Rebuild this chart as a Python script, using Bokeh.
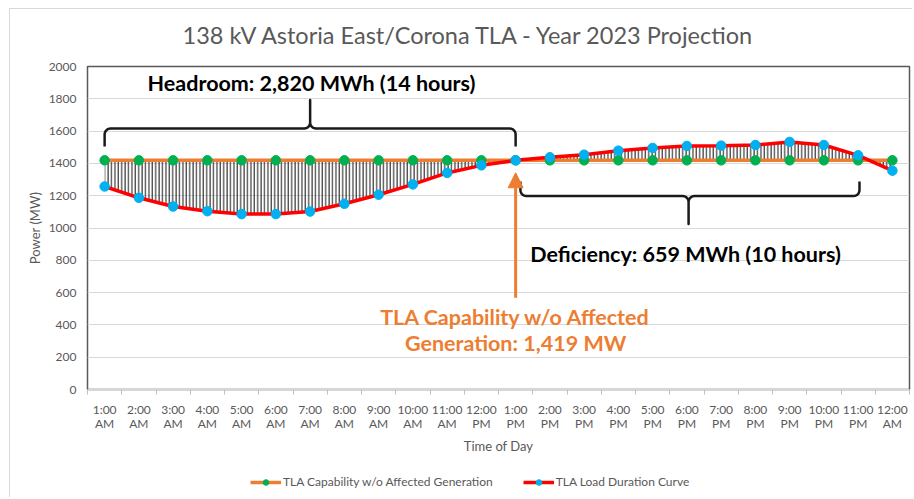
import numpy as np
from bokeh.plotting import figure
from bokeh.layouts import column
from bokeh.models import (Label, Legend, LegendItem, FixedTicker, SingleIntervalTicker,
                          Arrow, NormalHead, ColumnDataSource, Title, Range1d)
from bokeh.embed import file_html
from bokeh.resources import INLINE

# ---------------- data ----------------
hours = list(range(1, 25))
tick_labels = ["1:00\nAM", "2:00\nAM", "3:00\nAM", "4:00\nAM", "5:00\nAM", "6:00\nAM",
               "7:00\nAM", "8:00\nAM", "9:00\nAM", "10:00\nAM", "11:00\nAM", "12:00\nPM",
               "1:00\nPM", "2:00\nPM", "3:00\nPM", "4:00\nPM", "5:00\nPM", "6:00\nPM",
               "7:00\nPM", "8:00\nPM", "9:00\nPM", "10:00\nPM", "11:00\nPM", "12:00\nAM"]
capability = [1419] * 24
load = [1257, 1187, 1133, 1104, 1086, 1086, 1102, 1150, 1206, 1270, 1341, 1388,
        1419, 1438, 1454, 1479, 1496, 1508, 1510, 1514, 1533, 1514, 1450, 1355]

ORANGE = "#ED7D31"
GREEN = "#00B050"
RED = "#FF0000"
BLUE = "#00B0F0"
GRAY = "#595959"
FONT = "Lato"

src = ColumnDataSource(dict(x=hours, cap=capability, load=load))

p = figure(width=912, height=467, output_backend="svg", toolbar_location=None,
           x_range=(0.5, 24.5), y_range=(0, 2000),
           min_border_left=87, min_border_right=3, min_border_top=66, min_border_bottom=78)
p.border_fill_color = None
p.background_fill_color = "white"
p.styles = {
    "background-image": "linear-gradient(#D9D9D9,#D9D9D9), linear-gradient(#D9D9D9,#D9D9D9)",
    "background-size": "1px 100%, 100% 1px",
    "background-position": "9px 8px, 9px 8px",
    "background-repeat": "no-repeat",
}

p.outline_line_color = GRAY
p.outline_line_width = 1.5
p.xgrid.grid_line_color = None
p.ygrid.grid_line_color = "#D9D9D9"
p.ygrid.ticker = SingleIntervalTicker(interval=200)

# y axis
p.yaxis.ticker = SingleIntervalTicker(interval=200)
p.yaxis.axis_line_color = None
p.yaxis.major_tick_out = 0
p.yaxis.major_tick_in = 0
p.yaxis.minor_tick_line_color = None
p.yaxis.major_label_standoff = 7
p.yaxis.major_label_text_font = FONT
p.yaxis.major_label_text_font_size = "12px"
p.yaxis.major_label_text_color = GRAY
p.yaxis.axis_label = "Power (MW)"
p.yaxis.axis_label_text_font = FONT
p.yaxis.axis_label_text_font_size = "13px"
p.yaxis.axis_label_text_font_style = "normal"
p.yaxis.axis_label_text_color = GRAY
p.yaxis.axis_label_standoff = 3

# x axis
p.xaxis.ticker = FixedTicker(ticks=hours, minor_ticks=[h - 0.5 for h in hours] + [24.5])
p.xaxis.major_label_overrides = {h: lab for h, lab in zip(hours, tick_labels)}
p.xaxis.axis_line_color = "#D9D9D9"
p.xaxis.major_tick_line_color = None
p.xaxis.major_tick_out = 0
p.xaxis.minor_tick_line_color = "#BFBFBF"
p.xaxis.minor_tick_out = 5
p.xaxis.minor_tick_in = 0
p.xaxis.major_label_standoff = 7
p.xaxis.major_label_text_font = FONT
p.xaxis.major_label_text_font_size = "12px"
p.xaxis.major_label_text_line_height = 0.95
p.xaxis.major_label_text_color = GRAY
p.xaxis.axis_label = "Time of Day"
p.xaxis.axis_label_text_font = FONT
p.xaxis.axis_label_text_font_size = "13px"
p.xaxis.axis_label_text_font_style = "normal"
p.xaxis.axis_label_text_color = GRAY
p.xaxis.axis_label_standoff = 4

# hatched area between curves
p.varea(x="x", y1="cap", y2="load", source=src, fill_alpha=0,
        hatch_pattern="|", hatch_scale=3.4, hatch_weight=1.1, hatch_color="#262626")

line_kw_cap = dict(line_color=ORANGE, line_width=3.5)
sc_kw_cap = dict(size=9.5, fill_color=GREEN, line_color=GREEN)
line_kw_load = dict(line_color=RED, line_width=3.5)
sc_kw_load = dict(size=9.5, fill_color=BLUE, line_color=BLUE)

p.line("x", "cap", source=src, **line_kw_cap)
p.scatter("x", "cap", source=src, **sc_kw_cap)
p.line("x", "load", source=src, **line_kw_load)
p.scatter("x", "load", source=src, **sc_kw_load)

# braces
def brace(x0, x1, xm, yb, ye, yt, rx=0.17, ry=37):
    e = np.sign(ye - yb)
    t = np.sign(yt - yb)
    th = np.linspace(0, np.pi / 2, 8)
    xs, ys = [x0], [ye]
    xs += list(x0 + rx - rx * np.cos(th)); ys += list(yb + e * ry - e * ry * np.sin(th))
    xs += list(xm - rx + rx * np.sin(th)); ys += list(yb + t * ry - t * ry * np.cos(th))
    xs += [xm, xm]; ys += [yt, yb + t * ry]
    xs += list(xm + rx - rx * np.sin(th[::-1])); ys += list(yb + t * ry - t * ry * np.cos(th[::-1]))
    xs += list(x1 - rx + rx * np.cos(th[::-1])); ys += list(yb + e * ry - e * ry * np.sin(th[::-1]))
    xs += [x1]; ys += [ye]
    p.line(xs, ys, line_color="#1A1A1A", line_width=2.5, line_join="round")

brace(1, 13, 7.0, 1616, 1504, 1792)
brace(13.14, 23.04, 18.05, 1198, 1288, 1025)

# arrow
p.add_layout(Arrow(end=NormalHead(size=15, fill_color=ORANGE, line_color=ORANGE),
                   x_start=13, y_start=568, x_end=13, y_end=1342,
                   line_color=ORANGE, line_width=3))

# texts
def lab(x, y, text, color="#000000"):
    p.add_layout(Label(x=x, y=y, text=text, text_font=FONT, text_font_size="21.5px",
                       text_font_style="bold", text_color=color,
                       text_align="center", text_baseline="middle"))

lab(7.04, 1896, "Headroom: 2,820 MWh (14 hours)")
lab(17.96, 839, "Deficiency: 659 MWh (10 hours)")
lab(13, 447, "TLA Capability w/o Affected", ORANGE)
lab(13, 286, "Generation: 1,419 MW", ORANGE)

# title
p.add_layout(Title(text="138 kV Astoria East/Corona TLA - Year 2023 Projection",
                   text_font=FONT, text_font_size="23.5px", text_font_style="normal",
                   text_color=GRAY, align="left", offset=95, standoff=35), "above")

# legend strip (separate figure under the chart; its frame aligns with the chart's frame)
q = figure(width=912, height=30, output_backend="svg", toolbar_location=None,
           x_range=Range1d(100, 101), y_range=Range1d(100, 101),
           x_axis_location=None, y_axis_location=None,
           min_border=0, min_border_left=0, min_border_right=0,
           min_border_top=0, min_border_bottom=0)
q.grid.visible = False
q.outline_line_color = None
q.border_fill_color = None
q.background_fill_color = None
q.styles = {
    "background-image": "linear-gradient(#D9D9D9,#D9D9D9)",
    "background-size": "1px 100%",
    "background-position": "9px 0px",
    "background-repeat": "no-repeat",
}
lc = q.line("x", "cap", source=src, **line_kw_cap)
scc = q.scatter("x", "cap", source=src, **sc_kw_cap)
ll = q.line("x", "load", source=src, **line_kw_load)
scl = q.scatter("x", "load", source=src, **sc_kw_load)

legend = Legend(items=[LegendItem(label="TLA Capability w/o Affected Generation", renderers=[lc, scc]),
                       LegendItem(label="TLA Load Duration Curve", renderers=[ll, scl])],
                location=(163, 8), orientation="horizontal",
                background_fill_alpha=0, border_line_alpha=0,
                label_text_font=FONT, label_text_font_size="12px", label_text_color=GRAY,
                glyph_width=31, glyph_height=14, label_standoff=2, spacing=30,
                padding=0, margin=0)
q.add_layout(legend, "center")

layout = column(p, q, spacing=0)
open("out.html", "w").write(file_html(layout, INLINE))
